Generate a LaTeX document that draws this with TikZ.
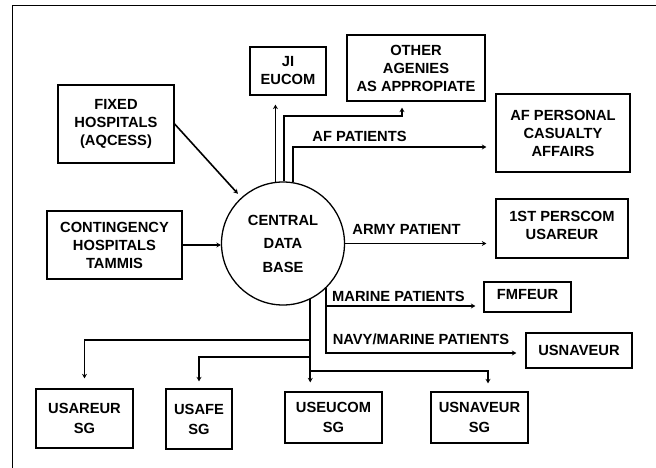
\documentclass[tikz,border=0pt]{standalone}
\usepackage{fontspec}
\setmainfont{Liberation Sans}
\usetikzlibrary{arrows.meta,calc}
\begin{document}
\begin{tikzpicture}[x=1pt,y=-1pt,
  box/.style={draw,line width=1.3pt,inner sep=0pt,align=center,font=\fontsize{14.7}{18}\selectfont\bfseries},
  boxtwo/.style={box,font=\fontsize{14.7}{20}\selectfont\bfseries},
  lab/.style={anchor=base,inner sep=0pt,font=\fontsize{14.7}{17}\selectfont\bfseries},
  arr/.style={line width=1.6pt,-{Stealth[length=4.5pt,width=5pt]}}]
\useasboundingbox (0,0) rectangle (656,468);
\draw[line width=1.1pt] (656,5.5) -- (12.5,5.5) -- (12.5,468);
% boxes
\node[box,minimum width=76pt,minimum height=48pt] (ji) at (288,71) {JI\\EUCOM};
\node[box,minimum width=138pt,minimum height=66pt] (oth) at (416,68) {OTHER\\AGENIES\\AS APPROPIATE};
\node[box,minimum width=116pt,minimum height=78pt] (fix) at (116,124) {FIXED\\HOSPITALS\\(AQCESS)};
\node[box,minimum width=134pt,minimum height=78pt] (afp) at (563,133) {AF PERSONAL\\CASUALTY\\AFFAIRS};
\node[box,minimum width=135pt,minimum height=68pt] (con) at (114.5,245) {CONTINGENCY\\HOSPITALS\\TAMMIS};
\node[draw,circle,line width=1.3pt,minimum size=123pt,inner sep=0pt,align=center,
  font=\fontsize{14.7}{18.5}\selectfont\bfseries] (db) at (283,243.5) {CENTRAL\\[5pt]DATA\\[5pt]BASE};
\node[box,minimum width=132pt,minimum height=59pt,text depth=6pt] (per) at (562,228.5) {1ST PERSCOM\\USAREUR};
\node[box,minimum width=87pt,minimum height=30pt,text depth=6pt] (fm) at (527.5,297) {FMFEUR};
\node[box,minimum width=106pt,minimum height=35pt] (usn) at (579,350.5) {USNAVEUR};
\node[boxtwo,minimum width=97pt,minimum height=59pt] (sg1) at (84.5,418.5) {USAREUR\\SG};
\node[boxtwo,minimum width=66pt,minimum height=60pt] (sg2) at (199,419) {USAFE\\SG};
\node[boxtwo,minimum width=97pt,minimum height=51pt] (sg3) at (333.5,417.5) {USEUCOM\\SG};
\node[boxtwo,minimum width=97pt,minimum height=51pt] (sg4) at (479.5,417.5) {USNAVEUR\\SG};
% inputs
\draw[arr,shorten >=5pt] (fix.east) -- (db);
\draw[arr] (con.east) -- (con.east -| db.west);
% upward outputs
\draw[arr,shorten >=9pt] (db.97.5) -- (db.97.5 |- ji.south);
\coordinate (k1) at (402,116);
\draw[arr,shorten >=6pt] (db.89) |- (k1) -- (k1 |- oth.south);
\draw[arr,shorten >=9pt] (db.81.6) |- (afp.west |- 0,147);
\node[lab] (lafp) at (359.5,142) {AF PATIENTS};
% army
\draw[arr,shorten >=9pt] (db.east) -- (db.east -| per.west);
\node[lab] (larmy) at (406.5,234) {ARMY PATIENT};
% marine / navy
\draw[arr,shorten >=9pt] (db.-46.3) |- (usn.west |- 0,353);
\draw[arr,shorten >=8pt] (db.-46.3 |- 0,306) -- (fm.west |- 0,306);
\node[lab] (lmar) at (398.5,301) {MARINE PATIENTS};
\node[lab] (lnav) at (421,344) {NAVY/MARINE PATIENTS};
% SG tree
\draw[arr,shorten >=9pt] (db.-64.3) -- (db.-64.3 |- sg3.north);
\draw[arr,shorten >=10pt] (db.-64.3 |- 0,340) -| (sg1.north);
\draw[arr,shorten >=7pt] (db.-64.3 |- 0,357) -| (sg2.north);
\draw[arr,shorten >=8pt] (db.-64.3 |- 0,371) -| ($(sg4.north)+(8.5,0)$);
\end{tikzpicture}
\end{document}
